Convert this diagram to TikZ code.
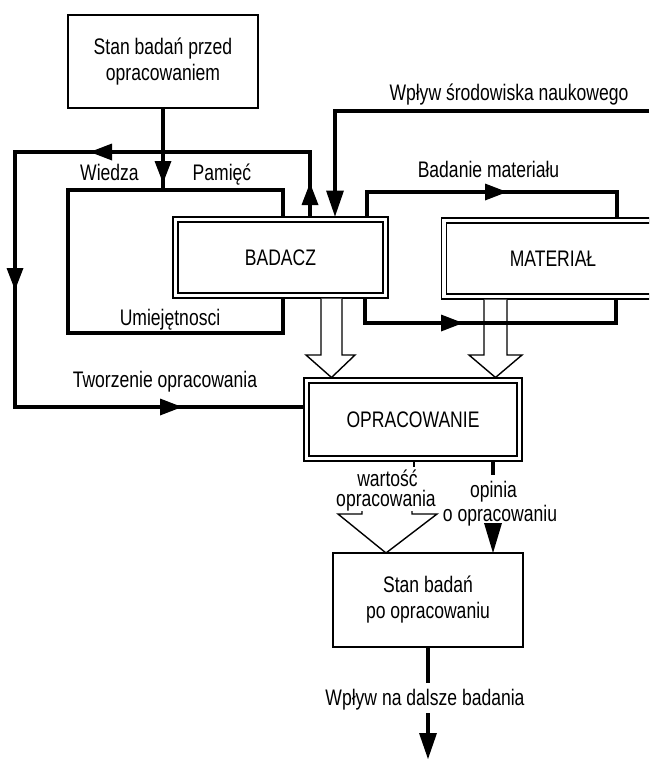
\documentclass[tikz,border=0pt]{standalone}
\usepackage{fontspec}
\setmainfont{Liberation Sans}[FakeStretch=0.78]
\usetikzlibrary{arrows.meta,decorations.markings}
\newcommand\fatarrow{\arrow{Triangle[length=22pt 0,width=17pt 0,line width=0pt]}}
\begin{document}
\begin{tikzpicture}[x=1pt,y=-1pt,
  font=\fontsize{22.5}{26}\selectfont,
  conn/.style={line width=4pt},
  endarrow/.style={-{Triangle[length=#1 0,width=18pt 0,line width=0pt]}},
  endarrow/.default=26pt,
  sbox/.style={draw, line width=2pt, align=center, inner sep=0pt, outer sep=0pt},
  dbox/.style={draw, double, double distance=3.5pt, line width=1.5pt, fill=white, inner sep=0pt, outer sep=3pt},
  heavybox/.style={draw, line width=4pt, inner sep=0pt, outer sep=0pt},
  lab/.style={inner sep=1pt, anchor=base},
  hollow/.style={line width=1.4pt, line join=miter}]
\clip (0,0) rectangle (649,760);
\fill[white] (0,0) rectangle (649,760);

% boxes
\node[sbox, minimum width=190pt, minimum height=93pt] (przed) at (163,61.5) {Stan badań przed\\opracowaniem};
\node[heavybox, minimum width=215pt, minimum height=143pt] (umysl) at (175.5,261.5) {};
\node[dbox, minimum width=210pt, minimum height=76pt] (badacz) at (280.5,257.5) {BADACZ};
\node[dbox, minimum width=218pt, minimum height=76pt] (material) at (553,258.5) {MATERIAŁ};
\node[dbox, minimum width=213pt, minimum height=78pt] (opr) at (413,419.5) {OPRACOWANIE};
\node[sbox, minimum width=190pt, minimum height=94pt] (po) at (428,600) {Stan badań\\po opracowaniu};

% coordinates
\coordinate (c1) at (310,152);
\coordinate (c2) at (15,152);
\coordinate (c3) at (15,407);
\coordinate (w1) at (649,111);
\coordinate (w2) at (335,111);
\coordinate (b1) at (367,192);
\coordinate (b2) at (617,192);
\coordinate (r1) at (365,323);
\coordinate (r2) at (616,323);
\coordinate (hl) at (331.5,0);
\coordinate (hr) at (495.5,0);
\coordinate (opx) at (493,475);
\coordinate (opy) at (493,523);
\coordinate (tk) at (414,467);
\coordinate (tvx) at (386,0);
\coordinate (f1) at (428,683);
\coordinate (f2) at (428,713);
\coordinate (f3) at (428,759);

% hollow arrows
\draw[hollow, fill=white] (hl |- badacz.south) ++(-10.5,0) -- ++(0,56.5) -- ++(-15,0)
  -- (hl |- opr.north) -- ++(23.5,-22.5) -- ++(-13,0) -- ++(0,-56.5);
\draw[hollow, fill=white] (hr |- material.south) ++(-11.5,0) -- ++(0,55.5) -- ++(-15,0)
  -- (hr |- opr.north) -- ++(26.5,-22.5) -- ++(-15,0) -- ++(0,-55.5);

% connectors
\draw[conn, postaction={decorate,decoration={markings,mark=at position 75pt with {\fatarrow}}}]
  (przed.south) -- (przed.south |- umysl.north);
\draw[conn, postaction={decorate,decoration={markings,
    mark=at position 33.5pt with {\fatarrow},
    mark=at position 284.5pt with {\fatarrow},
    mark=at position 497.5pt with {\fatarrow},
    mark=at position 781.5pt with {\fatarrow}}}]
  (badacz.north -| c1) -- (c1) -- (c2) -- (c3) -- (c3 -| opr.west);
\draw[conn, endarrow] (w1) -- (w2) -- (w2 |- badacz.north);
\draw[conn, postaction={decorate,decoration={markings,mark=at position 164.5pt with {\fatarrow}}}]
  (badacz.north -| b1) -- (b1) -- (b2) -- (b2 |- material.north);
\draw[conn, postaction={decorate,decoration={markings,mark=at position 122.5pt with {\fatarrow}}}]
  (badacz.south -| r1) -- (r1) -- (r2) -- (r2 |- material.south);

\draw[conn] (opr.south -| opx) -- (opx);
\draw[conn, endarrow=30pt] (opy) -- (po.north -| opy);
\draw[hollow] (opr.south -| tk) -- (tk);
\draw[hollow] (tvx |- po.north) ++(-24,-42) -- ++(0,3) -- ++(-24,0)
  -- (tvx |- po.north) -- ++(51,-39) -- ++(-25,0) -- ++(0,-3);
\draw[conn] (po.south) -- (f1);
\draw[conn, endarrow=26pt] (f2) -- (f3);

% labels
\node[lab] (lwiedza) at (109.5,180) {Wiedza};
\node[lab] (lpamiec) at (222,180) {Pamięć};
\node[lab] (lumiej) at (170,325) {Umiejętnosci};
\node[lab] (lsrod) at (509,100) {Wpływ środowiska naukowego};
\node[lab] (lbad) at (488.5,177) {Badanie materiału};
\node[lab] (ltworz) at (165,387) {Tworzenie opracowania};
\node[lab] (lwart) at (387.5,486) {wartość};
\node[lab] (lwart2) at (386,506.5) {opracowania};
\node[lab] (lopin) at (493.5,497) {opinia};
\node[lab] (lopin2) at (500,521) {o opracowaniu};
\node[lab] (ldalsze) at (425,705) {Wpływ na dalsze badania};
\end{tikzpicture}
\end{document}
